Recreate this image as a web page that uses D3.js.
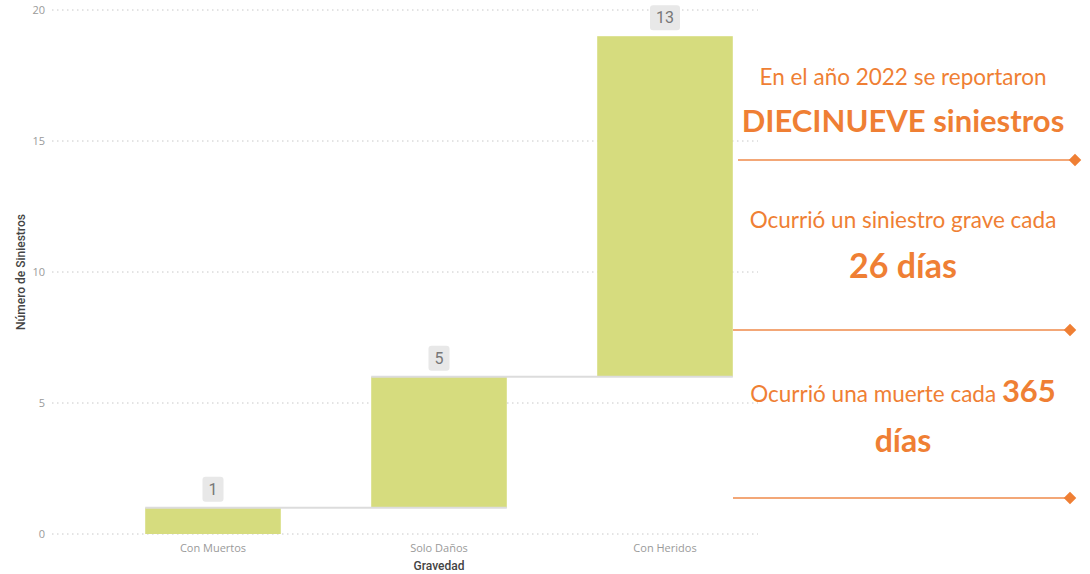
<!DOCTYPE html>
<html lang="es">
<head>
<meta charset="UTF-8">
<title>Siniestros 2022 por gravedad</title>
<script src="https://d3js.org/d3.v7.min.js"></script>
<style>
  body { margin: 0; background: #fff; }
  svg { display: block; }
  .tick-label { font-family: "Open Sans", sans-serif; font-size: 11px; fill: #9a9a9a; }
  .axis-title { font-family: Roboto, sans-serif; font-size: 12px; fill: #444; }
  .note { font-family: Lato, sans-serif; fill: #ef7f34; }
</style>
</head>
<body>
<div id="chart"></div>
<script>
// data
const categories = ["Con Muertos", "Solo Daños", "Con Heridos"];
const values = [1, 5, 13];
const yTicks = [0, 5, 10, 15, 20];

// texts on the right side
const noteLines = [
  [{ t: "En el año 2022 se reportaron", b: false }],
  [{ t: "DIECINUEVE siniestros", b: true }],
  [{ t: "Ocurrió un siniestro grave cada", b: false }],
  [{ t: "26 días", b: true }],
  [{ t: "Ocurrió una muerte cada ", b: false }, { t: "365", b: true }],
  [{ t: "días", b: true }]
];

const W = 1090, H = 574;
const svg = d3.select("#chart").append("svg")
  .attr("width", W).attr("height", H);

// cumulative start/end for waterfall
let acc = 0;
const steps = values.map((v, i) => {
  const s = { cat: categories[i], value: v, start: acc, end: acc + v };
  acc += v;
  return s;
});

const x = d3.scaleBand()
  .domain(categories)
  .range([100, 778])
  .paddingInner(0.4)
  .paddingOuter(0.2);

const y = d3.scaleLinear()
  .domain([0, 20])
  .range([534, 10]);

// gridlines
svg.append("g").selectAll("line")
  .data(yTicks)
  .join("line")
  .attr("x1", 52).attr("x2", 758)
  .attr("y1", d => y(d)).attr("y2", d => y(d))
  .attr("stroke", "#c8c8c8")
  .attr("stroke-width", 1)
  .attr("stroke-dasharray", "1.5,3.5");

svg.append("g").selectAll("text")
  .data(yTicks)
  .join("text")
  .attr("class", "tick-label")
  .attr("x", 45)
  .attr("y", d => y(d))
  .attr("dy", "0.35em")
  .attr("text-anchor", "end")
  .text(d => d);

// y title
svg.append("text")
  .attr("class", "axis-title")
  .attr("transform", `translate(25,${y(10)}) rotate(-90)`)
  .attr("text-anchor", "middle")
  .attr("font-weight", 500)
  .text("Número de Siniestros");

// bars
svg.append("g").selectAll("rect")
  .data(steps)
  .join("rect")
  .attr("x", d => x(d.cat))
  .attr("y", d => y(d.end))
  .attr("width", x.bandwidth())
  .attr("height", d => y(d.start) - y(d.end))
  .attr("fill", "#d6dc7e");

// connectors
svg.append("g").selectAll("line")
  .data(steps.slice(0, -1))
  .join("line")
  .attr("x1", d => x(d.cat))
  .attr("x2", (d, i) => x(categories[i + 1]) + x.bandwidth())
  .attr("y1", d => y(d.end)).attr("y2", d => y(d.end))
  .attr("stroke", "#dcdcdc")
  .attr("stroke-width", 2);

// value labels with grey box
const lab = svg.append("g").selectAll("g")
  .data(steps)
  .join("g")
  .attr("transform", d => `translate(${x(d.cat) + x.bandwidth() / 2},${y(d.end) - 6})`);

lab.append("rect").attr("class", "lbox");
lab.append("text")
  .attr("y", -12.5)
  .attr("dy", "0.36em")
  .attr("text-anchor", "middle")
  .attr("font-family", "Roboto, sans-serif")
  .attr("font-size", 16)
  .attr("fill", "#777")
  .text(d => d.value);

lab.each(function () {
  const g = d3.select(this);
  const w = g.select("text").node().getComputedTextLength() + 12;
  g.select("rect")
    .attr("x", -w / 2).attr("y", -25)
    .attr("width", w).attr("height", 25)
    .attr("rx", 3)
    .attr("fill", "#e8e8e8");
});

// x labels
svg.append("g").selectAll("text")
  .data(categories)
  .join("text")
  .attr("class", "tick-label")
  .attr("x", d => x(d) + x.bandwidth() / 2)
  .attr("y", 552)
  .attr("text-anchor", "middle")
  .attr("fill", "#777")
  .text(d => d);

svg.append("text")
  .attr("class", "axis-title")
  .attr("x", x(categories[1]) + x.bandwidth() / 2)
  .attr("y", 570)
  .attr("text-anchor", "middle")
  .attr("font-weight", 500)
  .text("Gravedad");

// right side notes
const noteY = [85, 132, 228, 278, 402, 452];
const noteSize = [22.5, 31, 22.5, 34, 22.5, 32];
const boldSize = [22.5, 31, 22.5, 34, 31, 32];
noteLines.forEach((parts, i) => {
  const t = svg.append("text")
    .attr("class", "note")
    .attr("x", 903)
    .attr("y", noteY[i])
    .attr("text-anchor", "middle")
    .attr("font-size", noteSize[i]);
  parts.forEach(p => {
    t.append("tspan")
      .attr("font-weight", p.b ? 700 : 400)
      .attr("font-size", p.b ? boldSize[i] : noteSize[i])
      .text(p.t);
  });
});

const rules = [
  { y: 160, x1: 738, x2: 1075 },
  { y: 330, x1: 733, x2: 1070 },
  { y: 498, x1: 733, x2: 1070 }
];
svg.append("g").selectAll("line")
  .data(rules)
  .join("line")
  .attr("x1", d => d.x1).attr("x2", d => d.x2)
  .attr("y1", d => d.y).attr("y2", d => d.y)
  .attr("stroke", "#ef8a4a")
  .attr("stroke-width", 1.5);

svg.append("g").selectAll("path")
  .data(rules)
  .join("path")
  .attr("d", d3.symbol(d3.symbolDiamond2, 100))
  .attr("transform", d => `translate(${d.x2},${d.y})`)
  .attr("fill", "#ef7f34");
</script>
</body>
</html>
